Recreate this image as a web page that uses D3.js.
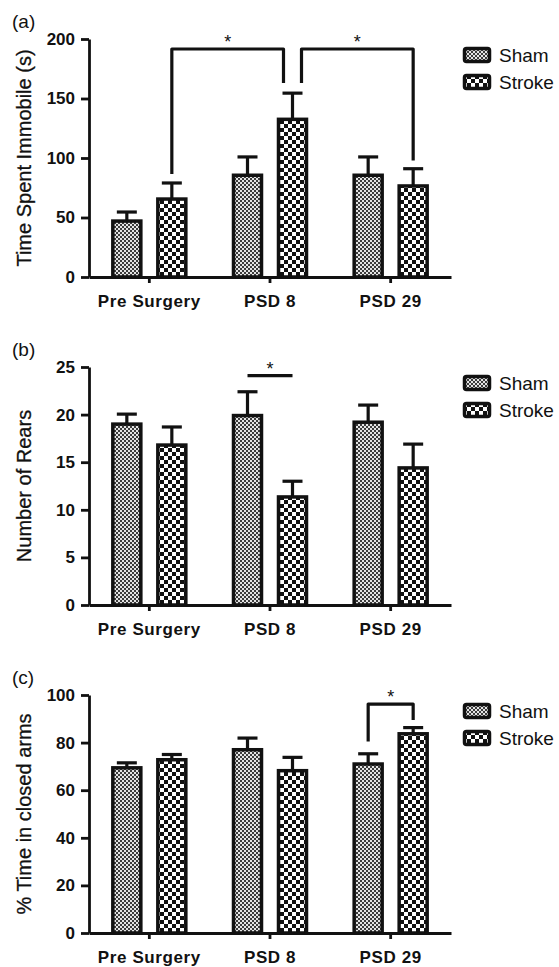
<!DOCTYPE html>
<html>
<head>
<meta charset="utf-8">
<style>
body { margin: 0; background: #fff; }
svg { font-family: "Liberation Sans", Arial, sans-serif; }
.axis path, .axis line { stroke: #111; stroke-width: 2.8; }
.axis text { font-size: 17px; font-weight: bold; fill: #111; }
.axis-x text { font-size: 17px; letter-spacing: 0.6px; }
</style>
</head>
<body>
<svg id="chart" width="559" height="967"></svg>
<script src="https://d3js.org/d3.v7.min.js"></script>
<script>

// categories / groups
const categories = ["Pre Surgery", "PSD 8", "PSD 29"];
const groups = ["Sham", "Stroke"];

// (a) time spent immobile
const immobileSham = [47, 85.5, 85.5];
const immobileShamErr = [7.6, 15.4, 15.4];
const immobileStroke = [65.5, 132.5, 76.5];
const immobileStrokeErr = [13.5, 22, 14.5];
const immobileTicks = [0, 50, 100, 150, 200];
// significance: [cat, group] -> [cat, group], bracket top, leg bottoms
const immobileSig = [
  { from: [0, 1], to: [1, 1], top: 191.6, legFrom: 86.5, legTo: 163 },
  { from: [1, 1], to: [2, 1], top: 191.6, legFrom: 163, legTo: 98 }
];

// (b) number of rears
const rearsSham = [19.0, 19.9, 19.2];
const rearsShamErr = [1.05, 2.5, 1.8];
const rearsStroke = [16.8, 11.35, 14.4];
const rearsStrokeErr = [1.9, 1.65, 2.5];
const rearsTicks = [0, 5, 10, 15, 20, 25];
const rearsSig = [
  { from: [1, 0], to: [1, 1], top: 24.1, legFrom: 24.1, legTo: 24.1 }
];

// (c) % time in closed arms
const armsSham = [69.4, 77, 71];
const armsShamErr = [2.1, 4.9, 4.3];
const armsStroke = [72.8, 68.2, 83.7];
const armsStrokeErr = [2.2, 5.6, 2.6];
const armsTicks = [0, 20, 40, 60, 80, 100];
const armsSig = [
  { from: [2, 0], to: [2, 1], top: 96.2, legFrom: 80.5, legTo: 89.5 }
];

const panels = [
  { label: "(a)", title: "Time Spent Immobile (s)", top: 39, max: 200, ticks: immobileTicks,
    sham: immobileSham, shamErr: immobileShamErr, stroke: immobileStroke, strokeErr: immobileStrokeErr, sig: immobileSig },
  { label: "(b)", title: "Number of Rears", top: 367, max: 25, ticks: rearsTicks,
    sham: rearsSham, shamErr: rearsShamErr, stroke: rearsStroke, strokeErr: rearsStrokeErr, sig: rearsSig },
  { label: "(c)", title: "% Time in closed arms", top: 695, max: 100, ticks: armsTicks,
    sham: armsSham, shamErr: armsShamErr, stroke: armsStroke, strokeErr: armsStrokeErr, sig: armsSig }
];

const svg = d3.select("#chart");
const ink = "#111";

// fill patterns
const defs = svg.append("defs");
let pSham = defs.append("pattern").attr("id", "pat-sham")
  .attr("patternUnits", "userSpaceOnUse").attr("width", 4).attr("height", 4);
pSham.append("rect").attr("width", 4).attr("height", 4).attr("fill", "#e4e4e4");
pSham.append("rect").attr("width", 2).attr("height", 2).attr("fill", "#3c3c3c");
pSham.append("rect").attr("x", 2).attr("y", 2).attr("width", 2).attr("height", 2).attr("fill", "#3c3c3c");

let pStroke = defs.append("pattern").attr("id", "pat-stroke")
  .attr("patternUnits", "userSpaceOnUse").attr("width", 8).attr("height", 8);
pStroke.append("rect").attr("width", 8).attr("height", 8).attr("fill", "#fff");
pStroke.append("rect").attr("width", 4).attr("height", 4).attr("fill", ink);
pStroke.append("rect").attr("x", 4).attr("y", 4).attr("width", 4).attr("height", 4).attr("fill", ink);

const fills = { Sham: "url(#pat-sham)", Stroke: "url(#pat-stroke)" };

const plotH = 238;
const barW = 28;

let xScale = d3.scaleBand().domain(categories).range([89, 451]).padding(0);
let sub = d3.scalePoint().domain(groups).range([-22.5, 22.5]);
const barCenter = (ci, gi) => xScale(categories[ci]) + xScale.bandwidth() / 2 + sub(groups[gi]);

panels.forEach(p => {
  let g = svg.append("g");
  let yScale = d3.scaleLinear().domain([0, p.max]).range([p.top + plotH, p.top]);
  let base = p.top + plotH;

  // panel letter
  g.append("text").attr("x", 12).attr("y", p.top - 11)
    .attr("font-size", 19).attr("fill", ink).text(p.label);

  // y title
  g.append("text")
    .attr("transform", `translate(31,${p.top + plotH / 2}) rotate(-90)`)
    .attr("text-anchor", "middle").attr("font-size", 20).attr("fill", ink)
    .attr("stroke", ink).attr("stroke-width", 0.3)
    .text(p.title);

  // bars data
  let rows = [];
  categories.forEach((c, ci) => {
    rows.push({ ci: ci, gi: 0, v: p.sham[ci], e: p.shamErr[ci] });
    rows.push({ ci: ci, gi: 1, v: p.stroke[ci], e: p.strokeErr[ci] });
  });

  // error bars (upper only)
  g.selectAll(".err").data(rows).join("line").attr("class", "err")
    .attr("x1", d => barCenter(d.ci, d.gi)).attr("x2", d => barCenter(d.ci, d.gi))
    .attr("y1", d => yScale(d.v)).attr("y2", d => yScale(d.v + d.e))
    .attr("stroke", ink).attr("stroke-width", 3.2);
  g.selectAll(".cap").data(rows).join("line").attr("class", "cap")
    .attr("x1", d => barCenter(d.ci, d.gi) - 10).attr("x2", d => barCenter(d.ci, d.gi) + 10)
    .attr("y1", d => yScale(d.v + d.e)).attr("y2", d => yScale(d.v + d.e))
    .attr("stroke", ink).attr("stroke-width", 3.2);

  g.selectAll(".bar").data(rows).join("rect").attr("class", "bar")
    .attr("x", d => barCenter(d.ci, d.gi) - barW / 2)
    .attr("y", d => yScale(d.v))
    .attr("width", barW)
    .attr("height", d => base - yScale(d.v))
    .attr("fill", d => fills[groups[d.gi]])
    .attr("stroke", ink).attr("stroke-width", 3.5);

  // axes
  g.append("g").attr("class", "axis axis-y")
    .attr("transform", "translate(89,0)")
    .call(d3.axisLeft(yScale).tickValues(p.ticks).tickSize(8).tickSizeOuter(0).tickPadding(6));
  g.append("g").attr("class", "axis axis-x")
    .attr("transform", `translate(0,${base})`)
    .call(d3.axisBottom(xScale).tickSize(6).tickSizeOuter(0).tickPadding(12));

  // significance brackets; legs sharing a bar are pushed apart
  let used = {};
  p.sig.forEach(s => {
    [s.from, s.to].forEach(k => { used[k.join()] = (used[k.join()] || 0) + 1; });
  });
  p.sig.forEach(s => {
    let xa = barCenter(s.from[0], s.from[1]);
    let xb = barCenter(s.to[0], s.to[1]);
    if (used[s.from.join()] > 1) xa += 9;
    if (used[s.to.join()] > 1) xb -= 9;
    let path = d3.path();
    path.moveTo(xa, yScale(s.legFrom));
    path.lineTo(xa, yScale(s.top));
    path.lineTo(xb, yScale(s.top));
    path.lineTo(xb, yScale(s.legTo));
    g.append("path").attr("d", path.toString())
      .attr("fill", "none").attr("stroke", ink).attr("stroke-width", 3.2)
      .attr("stroke-linejoin", "round");
    g.append("text").attr("x", (xa + xb) / 2).attr("y", yScale(s.top) - 1)
      .attr("text-anchor", "middle").attr("font-size", 18).attr("fill", ink).text("*");
  });

  // legend
  let leg = g.append("g").attr("transform", `translate(463,${p.top + 8})`);
  groups.forEach((name, i) => {
    leg.append("rect").attr("x", 1.5).attr("y", i * 27 + 1.5)
      .attr("width", 25).attr("height", 13).attr("rx", 2)
      .attr("fill", fills[name]).attr("stroke", ink).attr("stroke-width", 3.5);
    leg.append("text").attr("x", 36).attr("y", i * 27 + 15)
      .attr("font-size", 19).attr("fill", ink).text(name);
  });
});

</script>
</body>
</html>
